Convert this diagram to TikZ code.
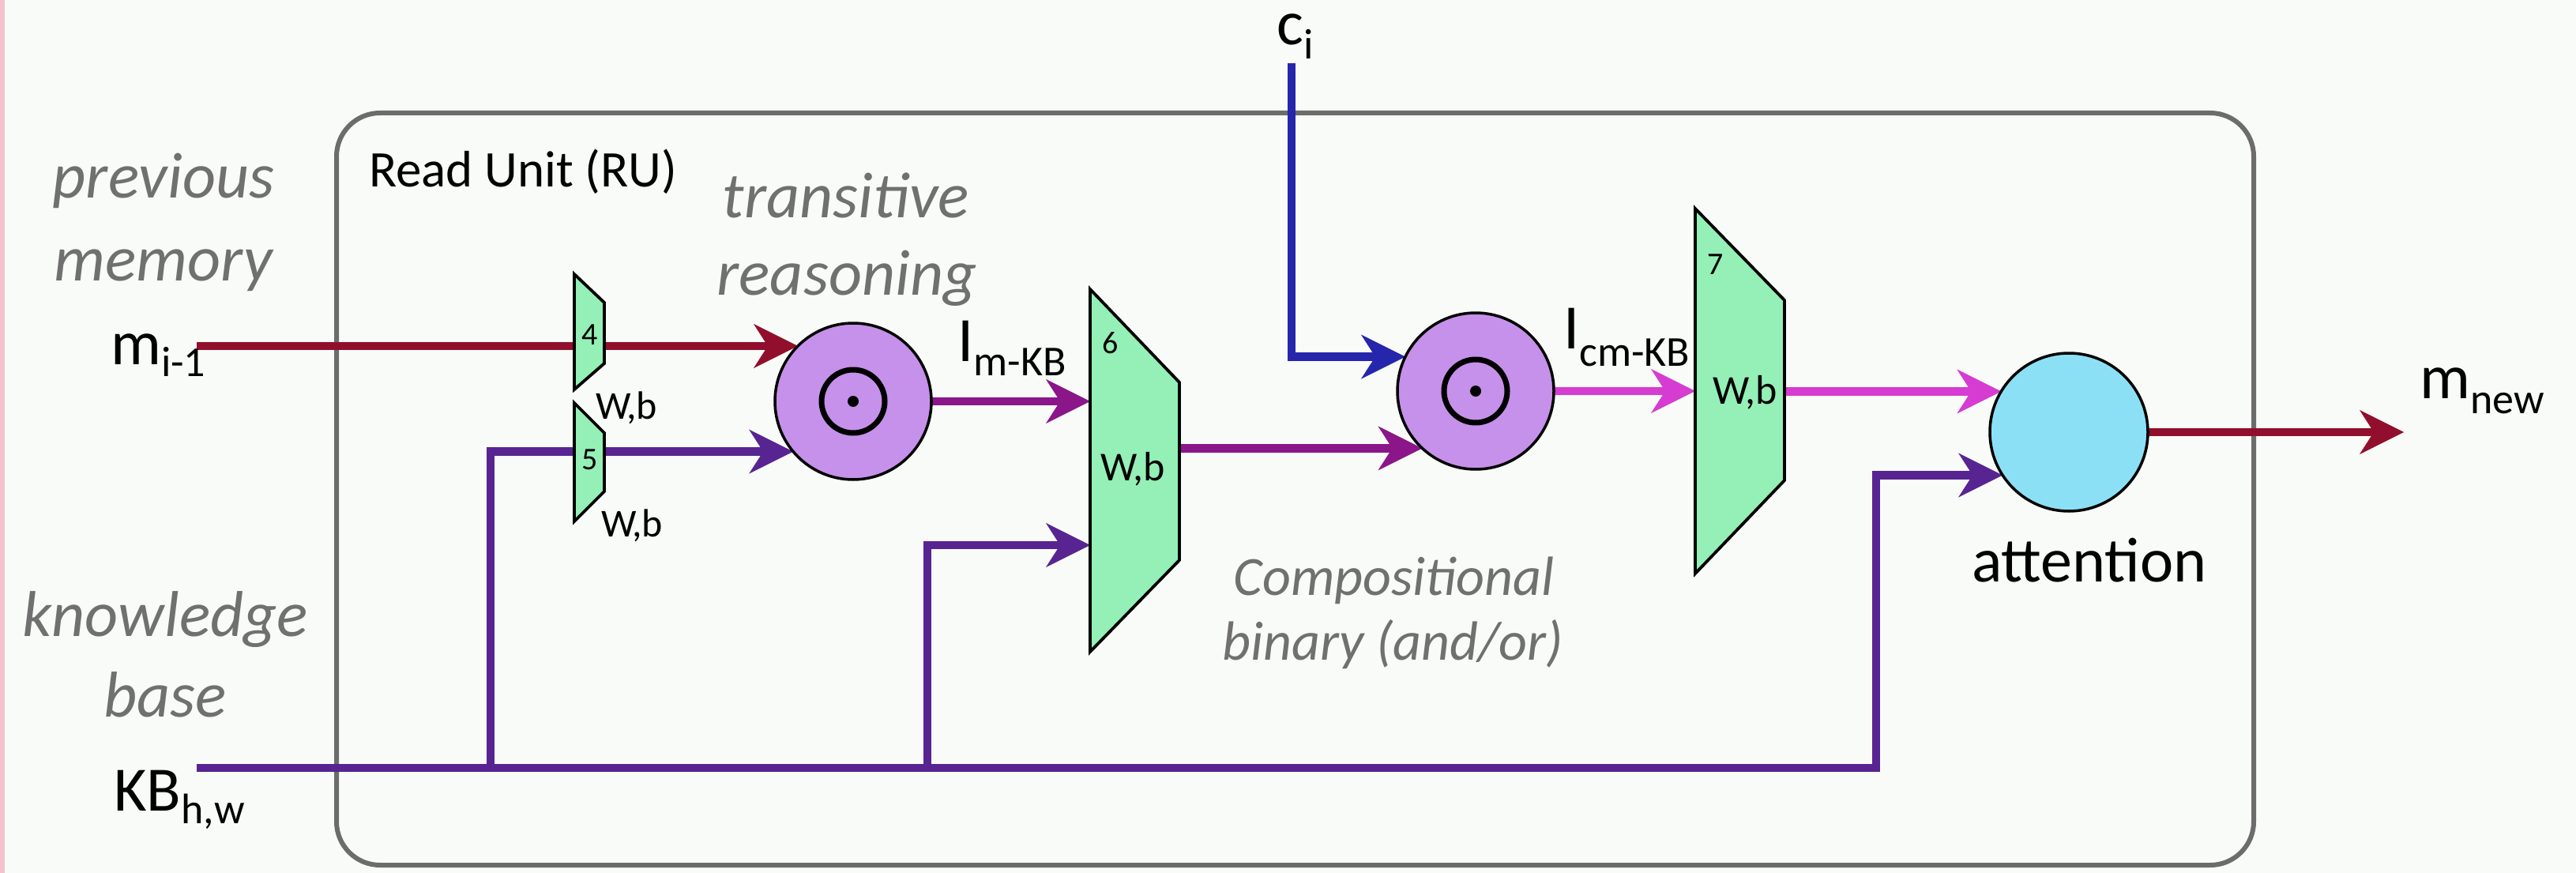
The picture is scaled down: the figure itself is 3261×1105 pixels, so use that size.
\documentclass[tikz,border=0pt]{standalone}
\usepackage{fontspec}
\setmainfont{Carlito}
\usetikzlibrary{arrows.meta,calc}
\pgfdeclarelayer{back}
\pgfdeclarelayer{lines}
\pgfsetlayers{back,lines,main}
\definecolor{bgc}{RGB}{248,251,247}
\definecolor{boxgrey}{RGB}{108,108,108}
\definecolor{txtgrey}{RGB}{112,112,112}
\definecolor{redl}{RGB}{145,15,45}
\definecolor{kbl}{RGB}{88,36,145}
\definecolor{mkbl}{RGB}{138,22,138}
\definecolor{bluel}{RGB}{38,38,172}
\definecolor{magl}{RGB}{214,60,210}
\definecolor{mint}{RGB}{148,240,182}
\definecolor{lav}{RGB}{198,145,234}
\definecolor{sky}{RGB}{140,224,246}
\definecolor{pinkedge}{RGB}{243,196,206}
\newcommand\lsub[2][18pt]{\raisebox{-#1}{\fontsize{54pt}{60pt}\selectfont #2}}
\begin{document}
\begin{tikzpicture}[x=1pt,y=-1pt,
  conn/.style={line width=10.5pt,line join=miter,-{Stealth[length=56pt,width=56pt,inset=18pt,line width=0.5pt]}},
  prod/.style={circle,draw=black,line width=3.5pt,fill=lav,minimum size=198pt,inner sep=0pt,outer sep=0pt},
  attn/.style={circle,draw=black,line width=3.5pt,fill=sky,minimum size=200pt,inner sep=0pt,outer sep=0pt},
  frame/.style={inner sep=0pt,outer sep=0pt},
  trapfill/.style={fill=mint,draw=black,line width=3.8pt,line join=miter},
  lbl/.style={inner sep=0pt,font=\fontsize{80pt}{96pt}\selectfont},
  glbl/.style={inner sep=0pt,text=txtgrey,font=\fontsize{82pt}{98pt}\selectfont\itshape},
  clbl/.style={inner sep=0pt,text=txtgrey,font=\fontsize{70pt}{84pt}\selectfont\itshape},
  numlbl/.style={inner sep=0pt,font=\fontsize{40pt}{46pt}\selectfont},
  wblbl/.style={inner sep=0pt,font=\fontsize{52pt}{60pt}\selectfont},
  swblbl/.style={inner sep=0pt,font=\fontsize{50pt}{60pt}\selectfont}
]
\useasboundingbox (0,0) rectangle (3261,1105);
\begin{pgfonlayer}{back}
  \fill[bgc] (0,0) rectangle (3261,1105);
  \fill[pinkedge] (0,0) rectangle (6,1105);
  \node[draw=boxgrey,line width=6pt,rounded corners=55pt,minimum width=2427pt,minimum height=952pt,inner sep=0pt] (ru) at (1639.5,619) {};
\end{pgfonlayer}

% shapes
\node[prod] (c1) at (1080,508) {};
\node[prod] (c2) at (1868,495) {};
\node[attn] (att) at (2619,547) {};
\foreach \c in {c1,c2}{
  \draw[line width=7pt] (\c) circle[radius=40];
  \fill (\c) circle[radius=7];
}
\node[frame,minimum width=38pt,minimum height=146pt] (t4) at (746,420) {};
\node[frame,minimum width=38pt,minimum height=150pt] (t5) at (746,585) {};
\node[frame,minimum width=113pt,minimum height=459pt] (t6) at (1436.5,595.5) {};
\node[frame,minimum width=113pt,minimum height=462pt] (t7) at (2202.5,495) {};
\filldraw[trapfill] (t4.north west) -- ($(t4.north east)+(0,36)$) -- ($(t4.south east)+(0,-33)$) -- (t4.south west) -- cycle;
\filldraw[trapfill] (t5.north west) -- ($(t5.north east)+(0,38)$) -- ($(t5.south east)+(0,-38)$) -- (t5.south west) -- cycle;
\filldraw[trapfill] (t6.north west) -- ($(t6.north east)+(0,118)$) -- ($(t6.south east)+(0,-116)$) -- (t6.south west) -- cycle;
\filldraw[trapfill] (t7.north west) -- ($(t7.north east)+(0,116)$) -- ($(t7.south east)+(0,-118)$) -- (t7.south west) -- cycle;

% labels in shapes
\node[numlbl,anchor=base] (n4) at (747,436) {4};
\node[numlbl,anchor=base] (n5) at (747,594) {5};
\node[numlbl,anchor=base] (n6) at (1406,447) {6};
\node[numlbl,anchor=base] (n7) at (2172,347) {7};
\node[swblbl,anchor=base] (wb4) at (793,530) {W,b};
\node[swblbl,anchor=base] (wb5) at (800,679) {W,b};
\node[wblbl,anchor=base] (wb6) at (1434,608) {W,b};
\node[wblbl,anchor=base] (wb7) at (2209,511) {W,b};

% text
\node[inner sep=0pt,font=\fontsize{65pt}{78pt}\selectfont,anchor=base west] (rutitle) at (467,236) {Read Unit (RU)};
\node[glbl,anchor=base] (prev) at (207,250) {previous};
\node[glbl,anchor=base] (mem) at (207,355) {memory};
\node[glbl,anchor=base] (know) at (209,805) {knowledge};
\node[glbl,anchor=base] (base) at (209,907) {base};
\node[glbl,anchor=base] (trans) at (1071,275) {transitive};
\node[glbl,anchor=base] (reas) at (1072,373) {reasoning};
\node[clbl,anchor=base] (comp) at (1765,753) {Compositional};
\node[clbl,anchor=base] (bin) at (1763,835) {binary (and/or)};
\node[lbl,anchor=base] (attlbl) at (2645,736) {attention};
\node[lbl,anchor=base west] (mlbl) at (140,461) {m\lsub[15pt]{i-1}};
\node[lbl,anchor=base west] (kblbl) at (144,1026) {KB\lsub[16pt]{h,w}};
\node[lbl,anchor=base west] (clbl) at (1616,57) {c\lsub{i}};
\node[lbl,anchor=base west] (imkb) at (1212,457) {I\lsub{m-KB}};
\node[lbl,anchor=base west] (icmkb) at (1979,441) {I\lsub[22pt]{cm-KB}};
\node[lbl,anchor=base west] (mnew) at (3063,504) {m\lsub[19pt]{new}};

% connectors
\begin{pgfonlayer}{lines}
  \coordinate (mstart) at (249,438);
  \coordinate (kbstart) at (249,972);
  \coordinate (j1) at (621,972);
  \coordinate (j2) at (1174,972);
  \coordinate (j3) at (2375,972);
  \coordinate (t6kb) at ($(t6.west)+(0,94.5)$);
  \coordinate (cstart) at (1635,80);
  \coordinate (mend) at (3043,547);
  \draw[conn,redl] (c1.135 -| mstart) -- (c1.135);
  \draw[conn,kbl] (kbstart) -- (j3) -- (j3 |- att.213) -- (att.213);
  \draw[conn,kbl] (j1) -- (j1 |- c1.220) -- (c1.220);
  \draw[conn,kbl] (j2) -- (j2 |- t6kb) -- (t6kb);
  \draw[conn,mkbl] (c1.east) -- (c1.east -| t6.west);
  \draw[conn,mkbl] (c2.227 -| t6.east) -- (c2.227);
  \draw[conn,bluel] (cstart) -- (cstart |- c2.154) -- (c2.154);
  \draw[conn,magl] (c2.east) -- (c2.east -| t7.west);
  \draw[conn,magl] (att.149 -| t7.east) -- (att.149);
  \draw[conn,redl] (att.east) -- (att.east -| mend);
\end{pgfonlayer}
\end{tikzpicture}
\end{document}
